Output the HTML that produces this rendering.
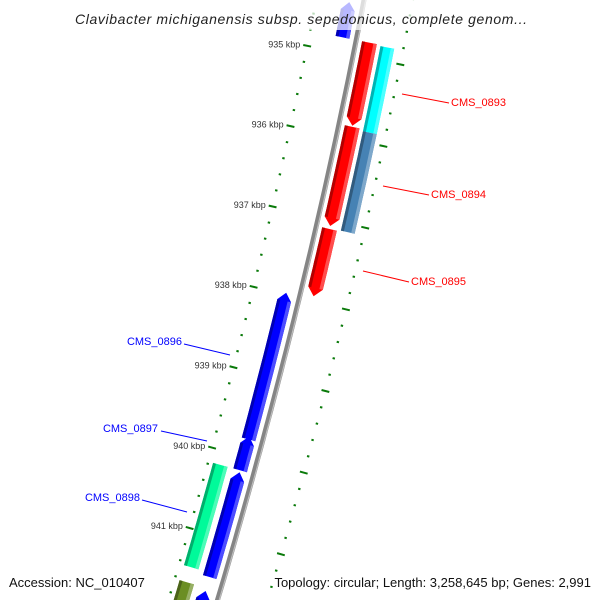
<!DOCTYPE html>
<html><head><meta charset="utf-8"><style>
html,body{margin:0;padding:0;background:#fff;width:600px;height:600px;overflow:hidden;}
svg{display:block;overflow:hidden;font-family:"Liberation Sans","DejaVu Sans",sans-serif;}
</style></head><body>
<svg id="map" width="600" height="600" viewBox="0 0 600 600" xmlns="http://www.w3.org/2000/svg">
<g id="ticks"></g>
<g id="backbone"></g>
<g id="genes"></g>
<g id="labels"></g>
<rect x="68" y="0" width="464" height="30" fill="#fff" opacity="0.72"/>
<text x="75" y="24" font-size="14" font-style="italic" fill="#222" textLength="452" lengthAdjust="spacing">Clavibacter michiganensis subsp. sepedonicus, complete genom...</text>
<text x="9" y="587" font-size="13" fill="#111">Accession: NC_010407</text>
<text x="591" y="587" font-size="13" fill="#111" text-anchor="end">Topology: circular; Length: 3,258,645 bp; Genes: 2,991</text>
</svg>
<script>
// data
const geneNames  = ["top-gene","CMS_0893","CMS_0894","CMS_0895","cyan-gene","steel-gene","CMS_0896","CMS_0897","CMS_0898","bottom-blue","green-gene","olive-gene"];
const geneStarts = [934.38, 934.815, 935.852, 937.111, 934.83, 935.877, 937.975, 939.753, 940.198, 941.667, 940.173, 941.63];
const geneEnds   = [934.815, 935.84, 937.074, 937.938, 935.877, 937.099, 939.79, 940.173, 941.494, 942.3, 941.444, 942.45];
const geneStrand = [-1, 1, 1, 1, 0, 0, -1, -1, -1, -1, 0, 0];
const geneTrack  = [-1, 1, 1, 1, 2, 2, -1, -1, -1, -1, -2, -2];
const geneColors = ["#0000ff","#ff0000","#ff0000","#ff0000","#00ffff","#4682b4","#0000ff","#0000ff","#0000ff","#0000ff","#00fa9a","#6b8e23"];
const tickStart = 933.6, tickEnd = 942.6;
const tickLabels = [935,936,937,938,939,940,941];
const labelNames = ["CMS_0893","CMS_0894","CMS_0895","CMS_0896","CMS_0897","CMS_0898"];

// geometry
const NS="http://www.w3.org/2000/svg";
const xb = y => 364 - 0.1907*y - 8.9e-5*y*y;
const slope = y => -0.1907 - 1.78e-4*y;
function P(y0,d){const s=slope(y0);const n=Math.hypot(1,s);return [xb(y0)+d/n, y0 - d*s/n];}
const kY = k => 55 + (k-935)*81;
const trackRange = {"1":[6,21],"2":[25,39],"-1":[-21,-7],"-2":[-42,-27]};
function mk(tag,attrs,parent){const e=document.createElementNS(NS,tag);for(const a in attrs)e.setAttribute(a,attrs[a]);parent.appendChild(e);return e;}
const pt = p => p[0].toFixed(1)+","+p[1].toFixed(1);

// backbone
const bb=document.getElementById("backbone");
let pts=[],pts2=[];
for(let y=-10;y<=610;y+=10){pts.push(pt(P(y,0)));pts2.push(pt(P(y,1.6)));}
let bl=mk("polyline",{points:pts.join(" "),fill:"none",stroke:"#858585","stroke-width":5},bb);


let bl2=mk("polyline",{points:pts2.join(" "),fill:"none",stroke:"#bdbdbd","stroke-width":1.2},bb);



// ticks
const tg=document.getElementById("ticks");
const nT=Math.round((tickEnd-tickStart)/0.2);
for(let i=0;i<=nT;i++){
  const k=tickStart+i*0.2;
  const major=Math.abs(k-Math.round(k))<0.01;
  const h=major?4:1.2;
  [-47,48].forEach(d=>{
    const a=P(kY(k),d-h),b=P(kY(k),d+h);
    if(a[1]>598||b[1]>598) return;
    const l=mk("line",{x1:a[0],y1:a[1],x2:b[0],y2:b[1],stroke:"#0a7a0a","stroke-width":2},tg);
    
    
  });
}
tickLabels.forEach(k=>{
  const p=P(kY(k),-54);
  const t=mk("text",{x:p[0].toFixed(1),y:(p[1]+3).toFixed(1),"font-size":9,fill:"#333","text-anchor":"end"},tg);
  t.textContent=k+" kbp";
  
  
});

// genes
const gg=document.getElementById("genes");
function shade(c,f){const n=parseInt(c.slice(1),16);let r=n>>16,g=(n>>8)&255,b=n&255;
  const m=v=>Math.max(0,Math.min(255,Math.round(f>1?v+(255-v)*(f-1):v*f)));
  return "rgb("+m(r)+","+m(g)+","+m(b)+")";}
function strip(y1,y2,da,db,fill,parent){
  const L=[],R=[];const N=12;
  for(let j=0;j<=N;j++){const y=y1+(y2-y1)*j/N;L.push(P(y,da));R.push(P(y,db));}
  return mk("polygon",{points:L.concat(R.reverse()).map(pt).join(" "),fill:fill},parent);
}
geneNames.forEach((name,i)=>{
  const c=geneColors[i];
  const [d1,d2]=trackRange[geneTrack[i]];
  const ya=kY(geneStarts[i]),yb=kY(geneEnds[i]);
  const ah=8, st=geneStrand[i];
  const g=mk("g",{},gg);
  
  
  const left=[],right=[];
  const y1=st<0?ya+ah:ya, y2=st>0?yb-ah:yb;
  const N=12;
  for(let j=0;j<=N;j++){const y=y1+(y2-y1)*j/N;left.push(P(y,d1));right.push(P(y,d2));}
  let poly=[];
  if(st<0) poly.push(P(ya,(d1+d2)/2));
  poly=poly.concat(left);
  if(st>0) poly.push(P(yb,(d1+d2)/2));
  poly=poly.concat(right.reverse());
  mk("polygon",{points:poly.map(pt).join(" "),fill:c},g);
  strip(y1,y2,d1,d1+3,shade(c,0.7),g);
  strip(y1,y2,d2-3.5,d2,shade(c,1.3),g);
});

// gene labels
const lblX   = [451,431,411,182,158,140];
const lblY   = [106,198,285,345,432,501];
const lineX1 = [402,383,363,184,161,142];
const lineY1 = [94,186,271,344,431,500];
const lineX2 = [449,429,409,230,207,187];
const lineY2 = [103,195,282,355,441,512];
const lblCol = ["#ff0000","#ff0000","#ff0000","#0000ff","#0000ff","#0000ff"];
const lblAnchor = ["start","start","start","end","end","end"];
const lg2=document.getElementById("labels");
labelNames.forEach((n,i)=>{
  const l=mk("line",{x1:lineX1[i],y1:lineY1[i],x2:lineX2[i],y2:lineY2[i],stroke:lblCol[i],"stroke-width":1},lg2);
  
  
  const t=mk("text",{x:lblX[i],y:lblY[i],"font-size":11,fill:lblCol[i],"text-anchor":lblAnchor[i]},lg2);
  t.textContent=n;
  
  
});
</script>
</body></html>
